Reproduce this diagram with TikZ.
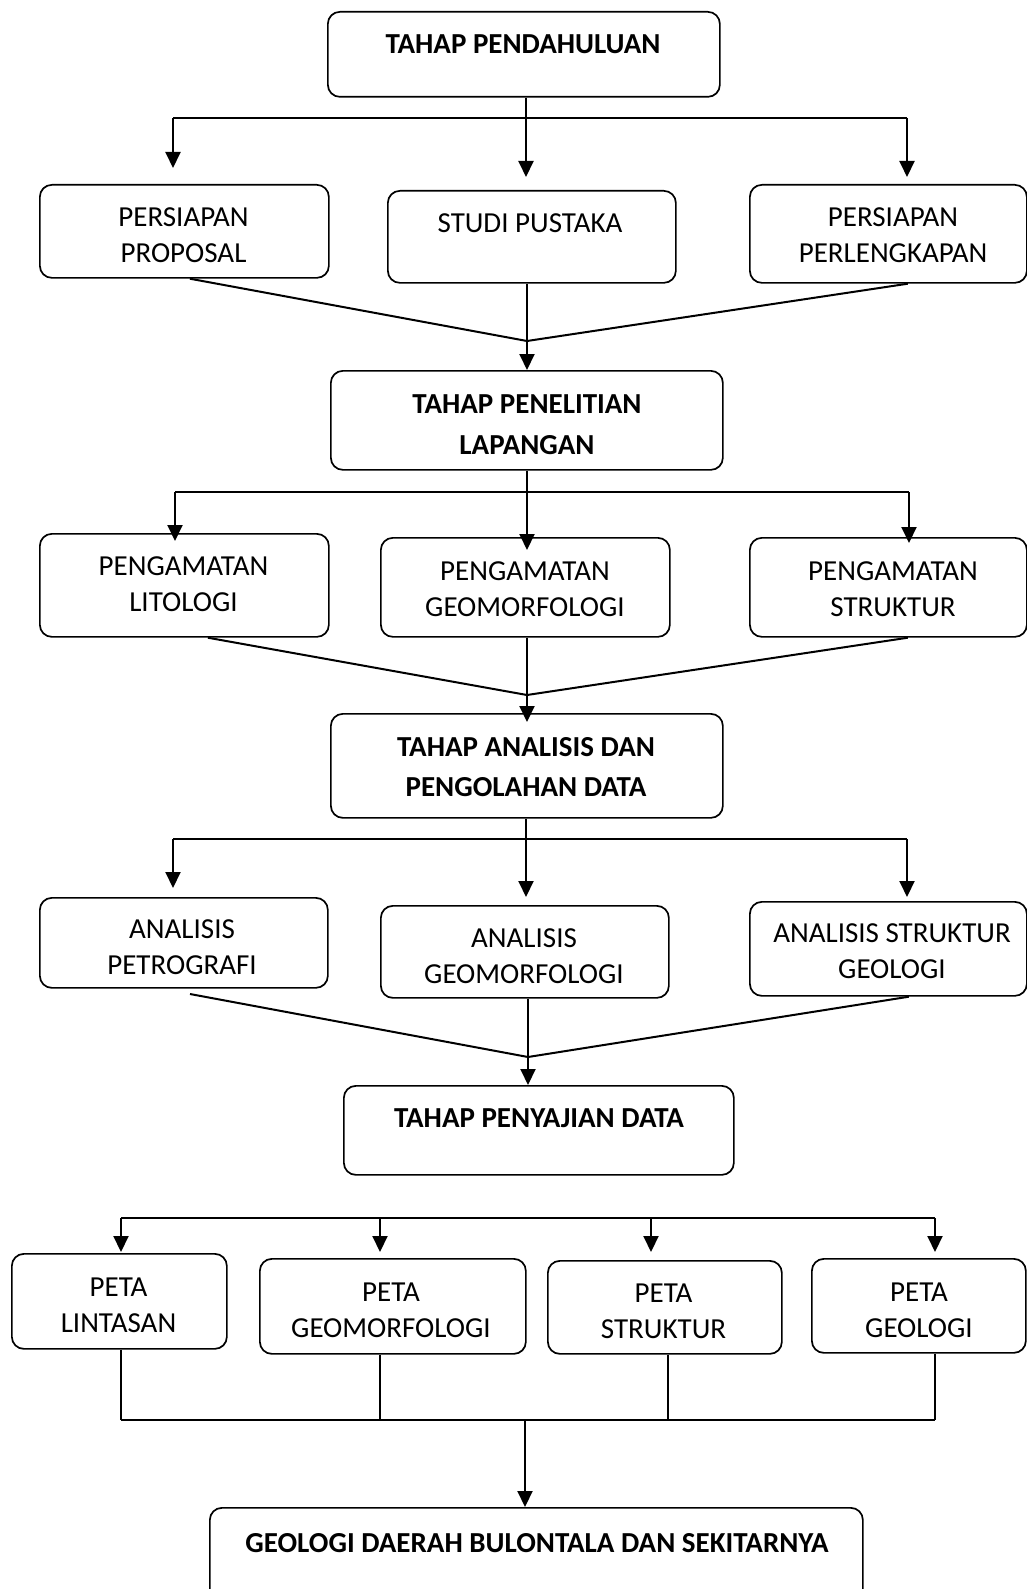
\documentclass[tikz,border=0pt]{standalone}
\usepackage{fontspec}
\setmainfont{Carlito}
\usetikzlibrary{arrows.meta}
\newcommand\mkbox[5]{\node[box, anchor=north west, minimum width={(#4-#2)*1pt}, minimum height={(#5-#3)*1pt}] (#1) at (#2,#3) {};}
\begin{document}
\begin{tikzpicture}[x=1pt,y=-1pt,
  box/.style={draw, line width=1.7pt, rounded corners=12pt, inner sep=0pt},
  lbl/.style={align=center, font=\fontsize{29}{36}\selectfont, inner sep=0pt},
  blbl/.style={align=center, font=\fontsize{29}{40.5}\selectfont\bfseries, inner sep=0pt},
  conn/.style={line width=2pt},
  arr/.style={conn, -{Triangle[length=16pt,width=15pt]}},
  thinln/.style={line width=1.4pt}]
\useasboundingbox (0,0) rectangle (1027,1589);
\clip (0,0) rectangle (1027,1589);

% ---------- boxes ----------
\mkbox{top}{327}{11}{719}{96}
\mkbox{prop}{39}{184}{328}{277}
\mkbox{studi}{387}{190}{675}{282}
\mkbox{perl}{749}{184}{1026}{282}
\mkbox{pen}{330}{370}{722}{469}
\mkbox{lit}{39}{533}{328}{636}
\mkbox{geo}{380}{537}{669}{636}
\mkbox{str}{749}{537}{1026}{636}
\mkbox{ana}{330}{713}{722}{817}
\mkbox{pet}{39}{897}{327}{987}
\mkbox{ageo}{380}{905}{668}{997}
\mkbox{astr}{749}{901}{1026}{995}
\mkbox{saji}{343}{1085}{733}{1174}
\mkbox{plin}{11}{1253}{226}{1348}
\mkbox{pgeo}{259}{1258}{525}{1353}
\mkbox{pstr}{547}{1260}{781}{1353}
\mkbox{pgeol}{811}{1258}{1025}{1352}
\mkbox{fin}{209}{1507}{862}{1620}

% ---------- texts ----------
\node[blbl] (top-t) at (523,44) {TAHAP PENDAHULUAN};
\node[lbl] (prop-t) at (183.5,235.5) {PERSIAPAN\\PROPOSAL};
\node[lbl] (studi-t) at (530,223) {STUDI PUSTAKA};
\node[lbl] (perl-t) at (893,235.5) {PERSIAPAN\\PERLENGKAPAN};
\node[blbl] (pen-t) at (527,424.5) {TAHAP PENELITIAN\\LAPANGAN};
\node[lbl] (lit-t) at (183.5,584.5) {PENGAMATAN\\LITOLOGI};
\node[lbl] (geo-t) at (525,589.5) {PENGAMATAN\\GEOMORFOLOGI};
\node[lbl] (str-t) at (893,589.5) {PENGAMATAN\\STRUKTUR};
\node[blbl] (ana-t) at (526,767) {TAHAP ANALISIS DAN\\PENGOLAHAN DATA};
\node[lbl] (pet-t) at (182,947.5) {ANALISIS\\PETROGRAFI};
\node[lbl] (ageo-t) at (524,956.5) {ANALISIS\\GEOMORFOLOGI};
\node[lbl] (astr-t) at (892,951.5) {ANALISIS STRUKTUR\\GEOLOGI};
\node[blbl] (saji-t) at (539,1118) {TAHAP PENYAJIAN DATA};
\node[lbl] (plin-t) at (118.5,1305) {PETA\\LINTASAN};
\node[lbl] (pgeo-t) at (391,1310) {PETA\\GEOMORFOLOGI};
\node[lbl] (pstr-t) at (663.5,1311.5) {PETA\\STRUKTUR};
\node[lbl] (pgeol-t) at (919,1310) {PETA\\GEOLOGI};
\node[blbl] (fin-t) at (537,1543) {GEOLOGI DAERAH BULONTALA DAN SEKITARNYA};

% ---------- level 1 ----------
\coordinate (b1L) at (173,118);
\coordinate (b1M) at (526,118);
\coordinate (b1R) at (907,118);
\coordinate (t1L) at (173,168);
\coordinate (t1M) at (526,177);
\coordinate (t1R) at (907,177);
\draw[conn] (top.south -| b1M) -- (b1M);
\draw[conn] (b1L) -- (b1R);
\draw[arr] (b1L) -- (t1L);
\draw[arr] (b1M) -- (t1M);
\draw[arr] (b1R) -- (t1R);
\coordinate (j1) at (527,341);
\draw[conn] ([xshift=5.5pt]prop.south) -- (j1);
\draw[conn] ([xshift=19.5pt]perl.south) -- (j1);
\draw[arr] (studi.south -| j1) -- (pen.north -| j1);

% ---------- level 2 ----------
\coordinate (b2L) at (175,492);
\coordinate (b2M) at (527,492);
\coordinate (b2R) at (909,492);
\coordinate (t2L) at (175,541);
\coordinate (t2M) at (527,550);
\coordinate (t2R) at (909,543);
\draw[conn] (pen.south -| b2M) -- (b2M);
\draw[conn] (b2L) -- (b2R);
\draw[arr] (b2L) -- (t2L);
\draw[arr] (b2M) -- (t2M);
\draw[arr] (b2R) -- (t2R);
\coordinate (j2) at (527,695);
\coordinate (t2A) at (527,722);
\draw[conn] ([xshift=23.5pt]lit.south) -- (j2);
\draw[conn] ([xshift=19.5pt]str.south) -- (j2);
\draw[arr] (geo.south -| j2) -- (t2A);

% ---------- level 3 ----------
\coordinate (b3L) at (173,839);
\coordinate (b3M) at (526,839);
\coordinate (b3R) at (907,839);
\coordinate (t3L) at (173,888);
\coordinate (t3M) at (526,897);
\coordinate (t3R) at (907,897);
\draw[conn] (ana.south -| b3M) -- (b3M);
\draw[conn] (b3L) -- (b3R);
\draw[arr] (b3L) -- (t3L);
\draw[arr] (b3M) -- (t3M);
\draw[arr] (b3R) -- (t3R);
\coordinate (j3) at (528,1057);
\coordinate (s3L) at (190,994);
\draw[conn] (s3L) -- (j3);
\draw[conn] ([xshift=20.5pt]astr.south) -- (j3);
\draw[arr] (ageo.south -| j3) -- (saji.north -| j3);

% ---------- level 4 ----------
\coordinate (b4L) at (121,1218);
\coordinate (b4R) at (935,1218);
\coordinate (b4a) at (380,1218);
\coordinate (b4b) at (651,1218);
\draw[conn] (b4L) -- (b4R);
\draw[arr] (b4L) -- ++(0,34);
\draw[arr] (b4a) -- ++(0,34);
\draw[arr] (b4b) -- ++(0,34);
\draw[arr] (b4R) -- ++(0,34);

\coordinate (c4L) at (121,1420);
\coordinate (c4a) at (380,1420);
\coordinate (c4b) at (668,1420);
\coordinate (c4R) at (935,1420);
\coordinate (c4M) at (525,1420);
\draw[thinln] (plin.south -| c4L) -- (c4L);
\draw[thinln] (pgeo.south -| c4a) -- (c4a);
\draw[thinln] (pstr.south -| c4b) -- (c4b);
\draw[thinln] (pgeol.south -| c4R) -- (c4R);
\draw[thinln] (c4L) -- (c4R);
\draw[arr] (c4M) -- (fin.north -| c4M);
\end{tikzpicture}
\end{document}
